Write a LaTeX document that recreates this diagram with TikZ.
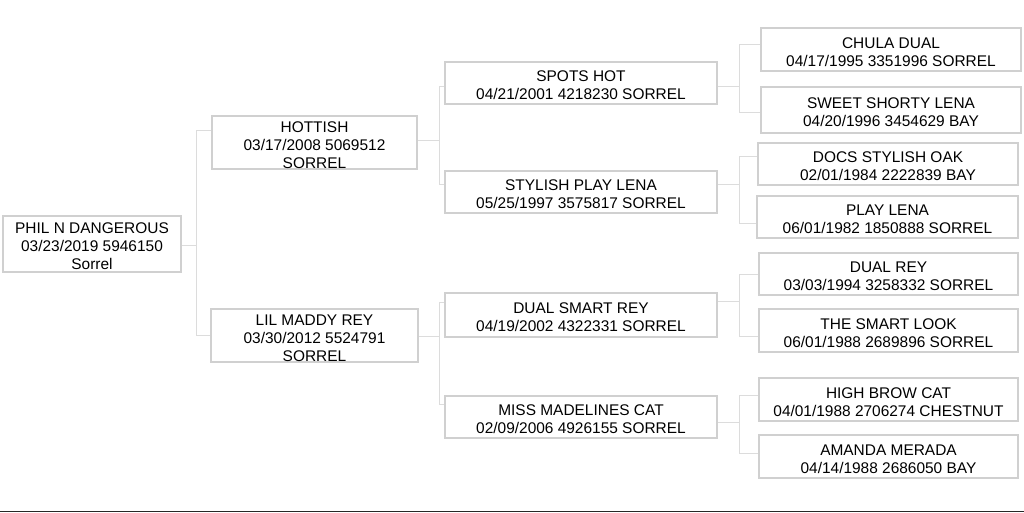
\documentclass[tikz,border=0pt]{standalone}
\usepackage{fontspec}
\setmainfont{Liberation Sans}
\definecolor{boxgray}{HTML}{D0D0D0}
\definecolor{linegray}{HTML}{DCDCDC}
\definecolor{txt}{HTML}{000000}
\newcommand\tpstrut{\rule{0pt}{16pt}}
\begin{document}
\begin{tikzpicture}[x=1pt,y=1pt,
  pbox/.style={draw=boxgray, line width=1.3pt, inner sep=0pt, align=center,
    text=txt, font=\fontsize{15.45}{18}\selectfont},
  conn/.style={draw=linegray, line width=1pt}]
\useasboundingbox (0,0) rectangle (1024,513);
% generation 0
\node[pbox, minimum width=178, minimum height=56] (phil) at (92,269) {\tpstrut PHIL N DANGEROUS\\03/23/2019 5946150\\Sorrel};
% generation 1
\node[pbox, minimum width=205, minimum height=53] (hot) at (314.5,370.5) {\tpstrut HOTTISH\\03/17/2008 5069512\\SORREL};
\node[pbox, minimum width=207, minimum height=53] (lil) at (314.5,177.5) {\tpstrut LIL MADDY REY\\03/30/2012 5524791\\SORREL};
% generation 2
\node[pbox, minimum width=272, minimum height=42] (spots) at (581,430) {\tpstrut SPOTS HOT\\04/21/2001 4218230 SORREL};
\node[pbox, minimum width=272, minimum height=42] (stylish) at (581,321) {\tpstrut STYLISH PLAY LENA\\05/25/1997 3575817 SORREL};
\node[pbox, minimum width=272, minimum height=44] (dual) at (581,198) {\tpstrut DUAL SMART REY\\04/19/2002 4322331 SORREL};
\node[pbox, minimum width=272, minimum height=42] (miss) at (581,96) {\tpstrut MISS MADELINES CAT\\02/09/2006 4926155 SORREL};
% generation 3
\node[pbox, minimum width=260, minimum height=43] (chula) at (891,463.5) {\tpstrut CHULA DUAL\\04/17/1995 3351996 SORREL};
\node[pbox, minimum width=260, minimum height=46] (sweet) at (891,403) {\tpstrut SWEET SHORTY LENA\\04/20/1996 3454629 BAY};
\node[pbox, minimum width=260, minimum height=42] (docs) at (888,349) {\tpstrut DOCS STYLISH OAK\\02/01/1984 2222839 BAY};
\node[pbox, minimum width=261, minimum height=42] (play) at (887.5,296) {\tpstrut PLAY LENA\\06/01/1982 1850888 SORREL};
\node[pbox, minimum width=259, minimum height=42] (duarey) at (888.5,239) {\tpstrut DUAL REY\\03/03/1994 3258332 SORREL};
\node[pbox, minimum width=259, minimum height=43] (smart) at (888.5,182.5) {\tpstrut THE SMART LOOK\\06/01/1988 2689896 SORREL};
\node[pbox, minimum width=259, minimum height=43] (high) at (888.5,113.5) {\tpstrut HIGH BROW CAT\\04/01/1988 2706274 CHESTNUT};
\node[pbox, minimum width=259, minimum height=43] (amanda) at (888.5,56.5) {\tpstrut AMANDA MERADA\\04/14/1988 2686050 BAY};
% connectors
\draw[conn] ([yshift=-2pt]phil.east) -- ++(14.5,0) coordinate (j0);
\draw[conn] ([yshift=11.5pt]hot.west) -| (j0) |- (lil.west);
\draw[conn] ([yshift=1.5pt]hot.east) -- ++(21.5,0) coordinate (j1);
\draw[conn] ([yshift=-4pt]spots.west) -| (j1) |- ([yshift=7pt]stylish.west);
\draw[conn] ([yshift=-1.5pt]lil.east) -- ++(20.5,0) coordinate (j2);
\draw[conn] ([yshift=12pt]dual.west) -| (j2) |- ([yshift=12pt]miss.west);
\draw[conn] ([yshift=-4pt]spots.east) -- ++(21.5,0) coordinate (j3);
\draw[conn] ([yshift=4.5pt]chula.west) -| (j3) |- ([yshift=-3pt]sweet.west);
\draw[conn] ([yshift=7pt]stylish.east) -- ++(21.5,0) coordinate (j4);
\draw[conn] ([yshift=7pt]docs.west) -| (j4) |- ([yshift=-7pt]play.west);
\draw[conn] ([yshift=13pt]dual.east) -- ++(21.5,0) coordinate (j5);
\draw[conn] ([yshift=-1pt]duarey.west) -| (j5) |- ([yshift=-6.5pt]smart.west);
\draw[conn] ([yshift=-6pt]miss.east) -- ++(21.5,0) coordinate (j6);
\draw[conn] ([yshift=3.5pt]high.west) -| (j6) |- ([yshift=2.5pt]amanda.west);
% bottom rule
\coordinate (rl) at (0,1.5);
\coordinate (rr) at (1024,1.5);
\draw[line width=1.8pt, draw=black!85] (rl) -- (rr);
\end{tikzpicture}
\end{document}
